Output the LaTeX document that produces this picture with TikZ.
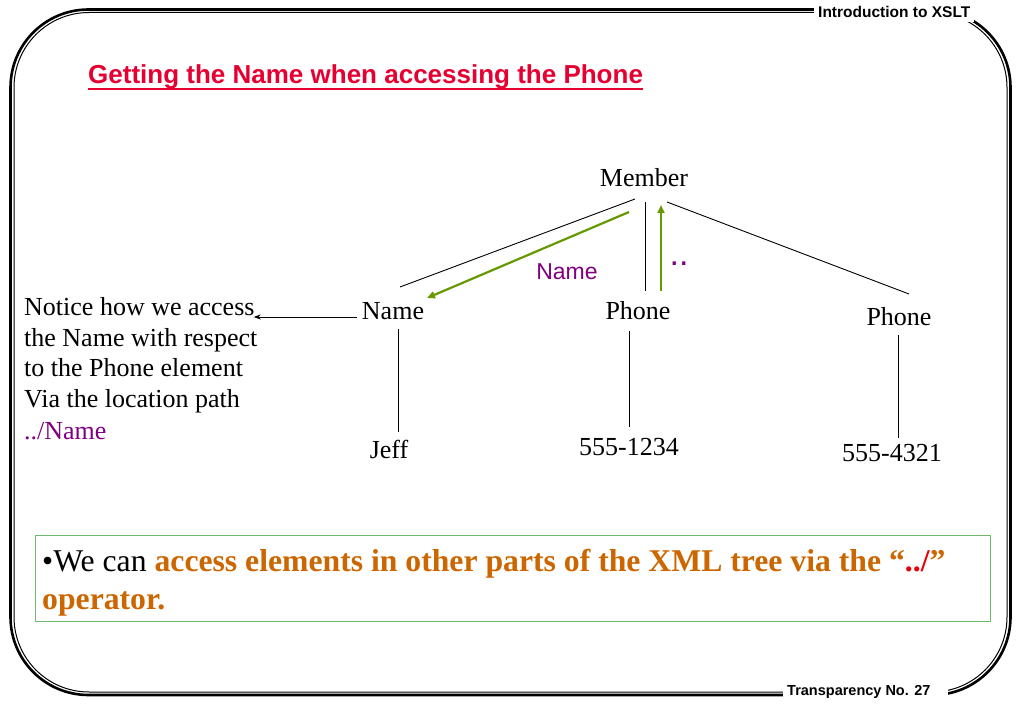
\documentclass[tikz,border=0pt]{standalone}
\usepackage{fontspec}
\setmainfont{Liberation Serif}
\newfontfamily\arialfont{Liberation Sans}
\usetikzlibrary{calc,arrows.meta}
\definecolor{titlered}{RGB}{230,0,50}
\definecolor{purp}{RGB}{128,0,128}
\definecolor{arrgreen}{RGB}{102,153,0}
\definecolor{boxgreen}{RGB}{110,185,110}
\definecolor{orng}{RGB}{204,102,0}
\definecolor{redtxt}{RGB}{230,0,0}
\begin{document}
\begin{tikzpicture}[x=1pt,y=-1pt,
  treetxt/.style={font=\fontsize{26}{31}\selectfont, inner sep=0pt, anchor=base},
  leftline/.style={font=\fontsize{26}{31}\selectfont, inner sep=0pt, anchor=base west},
  bodytxt/.style={font=\fontsize{31.7}{38}\selectfont, inner sep=0pt, anchor=base west},
  edge/.style={line width=0.9pt, black},
  greenarrow/.style={line width=2.2pt, arrgreen, -{Triangle[length=8pt,width=7pt]}},
  tag/.style={font=\arialfont\bfseries\fontsize{15.5}{18}\selectfont, fill=white, inner sep=4pt, anchor=west},
  pathlabel/.style={font=\arialfont\fontsize{23}{27}\selectfont, text=purp, inner sep=0pt, anchor=base}
]
\useasboundingbox (0,0) rectangle (1023,708);
% frame
\draw[line width=2.6pt, rounded corners=78pt] (10.5,9.5) rectangle (1010.5,695);
\draw[line width=1pt, rounded corners=75pt] (14,12.5) rectangle (1007,692);
\node[tag] (hdr) at (814,12) {Introduction to XSLT};
\node[tag, font=\arialfont\bfseries\fontsize{14.5}{18}\selectfont] (ftr) at (783,692) {Transparency No. 27\rule{14pt}{0pt}};
% title
\node[font=\arialfont\bfseries\fontsize{26}{30}\selectfont, text=titlered, anchor=base west, inner sep=0pt] (title) at (88,84) {Getting the Name when accessing the Phone};
\draw[titlered, line width=1.3pt] ($(title.base west)+(0,5)$) -- ($(title.base east)+(0,5)$);
% tree
\node[treetxt] (member) at (644,187) {Member};
\node[treetxt] (name) at (393,320) {Name};
\node[treetxt] (phone) at (638,320) {Phone};
\node[treetxt] (rphone) at (899,326) {Phone};
\node[treetxt] (jeff) at (389,458) {Jeff};
\node[treetxt] (num1) at (629,456) {555-1234};
\node[treetxt] (num2) at (892,461) {555-4321};
\draw[edge] ($(member.base)+(-9,12)$) -- ($(name.base)+(7,-33)$);
\draw[edge] ($(member.base)+(1,15)$) -- ($(phone.base)+(7,-29)$);
\draw[edge] ($(member.base)+(23,15)$) -- ($(rphone.base)+(10,-32)$);
\draw[edge] ($(name.base)+(5,9)$) -- ($(jeff.base)+(9,-26)$);
\draw[edge] ($(phone.base)+(-9,11)$) -- ($(num1.base)+(0,-29)$);
\draw[edge] ($(rphone.base)+(-1,9)$) -- ($(num2.base)+(6,-23)$);
\draw[greenarrow] ($(phone.base)+(23,-29)$) -- ($(member.base)+(17,18)$);
\draw[greenarrow] ($(member.base)+(-15,25)$) -- ($(name.base)+(34,-22)$);
\node[pathlabel] (lblname) at (567,280) {Name};
\node[font=\arialfont\fontsize{34}{38}\selectfont, text=purp, inner sep=0pt, anchor=base] (lbldots) at (679,266) {..};
% left note
\node[leftline] (l1) at (24,316) {Notice how we access};
\node[leftline] (l2) at (24,347) {the Name with respect};
\node[leftline] (l3) at (24,377) {to the Phone element};
\node[leftline] (l4) at (24,408) {Via the location path};
\node[leftline, text=purp] (l5) at (24,439) {../Name};
\draw[edge, -{Stealth[length=7pt,width=5pt]}] ($(name.base west)+(-5,-3)$) -- ($(l1.base east)+(-1,1)$);
% bottom box
\node[draw=boxgreen, line width=1.2pt, minimum width=955pt, minimum height=86pt, anchor=north west, inner sep=0pt] (box) at (35,535) {};
\node[bodytxt] (b1) at (42,571) {•We can \textbf{\color{orng}access elements in other parts of the XML tree via the “\textcolor{redtxt}{../}”}};
\node[bodytxt] (b2) at (42,609) {\textbf{\color{orng}operator.}};
\end{tikzpicture}
\end{document}
